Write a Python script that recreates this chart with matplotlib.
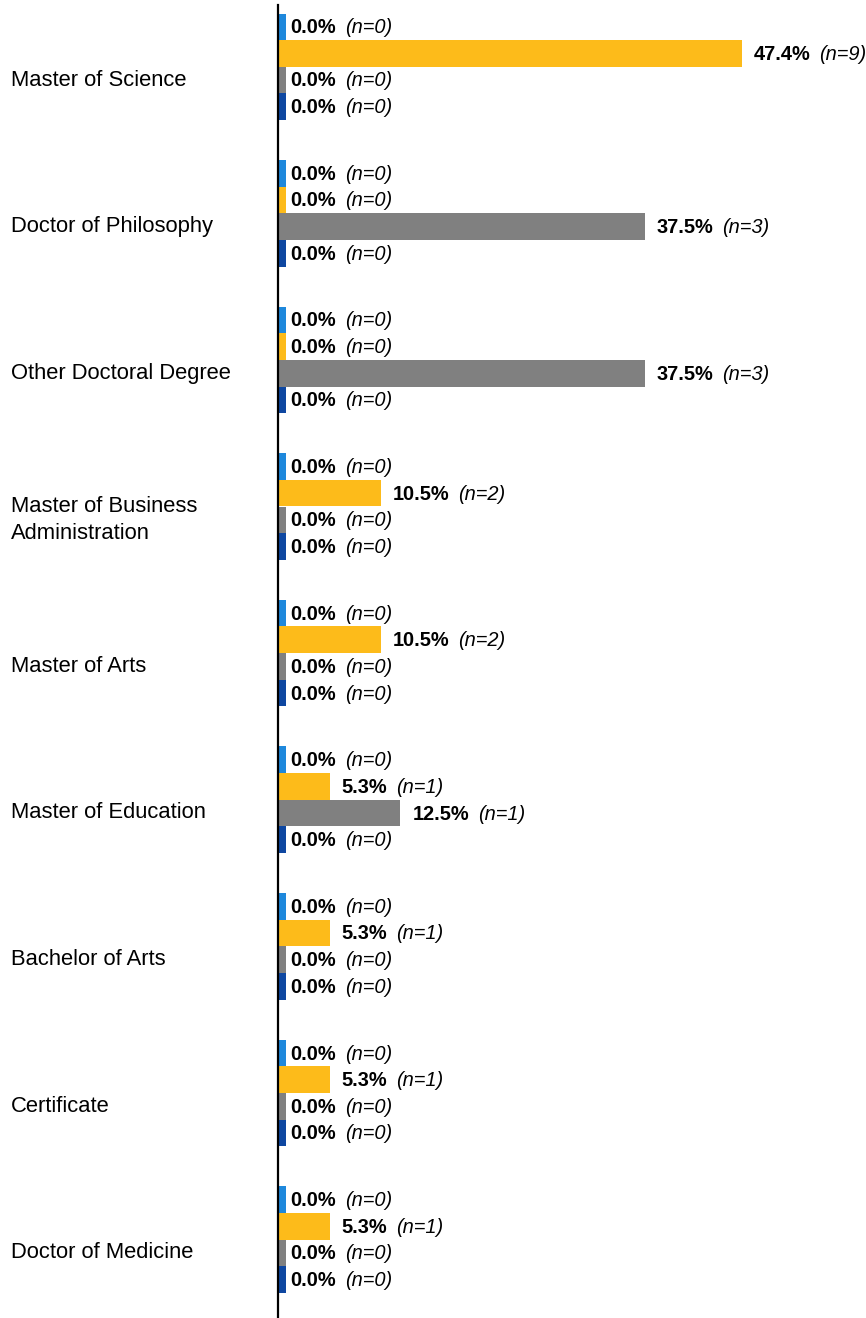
import matplotlib
matplotlib.use("Agg")
import matplotlib.pyplot as plt
from matplotlib.transforms import blended_transform_factory, offset_copy

plt.rcParams['font.family'] = ['Liberation Sans', 'DejaVu Sans']

categories = ["Master of Science", "Doctor of Philosophy", "Other Doctoral Degree",
              "Master of Business\nAdministration", "Master of Arts", "Master of Education",
              "Bachelor of Arts", "Certificate", "Doctor of Medicine"]
series_colors = ['#1E88DC', '#FDBB1A', '#808080', '#0E47A1']
s1_pct = [0, 0, 0, 0, 0, 0, 0, 0, 0]
s2_pct = [47.4, 0, 0, 10.5, 10.5, 5.3, 5.3, 5.3, 5.3]
s3_pct = [0, 37.5, 37.5, 0, 0, 12.5, 0, 0, 0]
s4_pct = [0, 0, 0, 0, 0, 0, 0, 0, 0]
s1_n = [0, 0, 0, 0, 0, 0, 0, 0, 0]
s2_n = [9, 0, 0, 2, 2, 1, 1, 1, 1]
s3_n = [0, 3, 3, 0, 0, 1, 0, 0, 0]
s4_n = [0, 0, 0, 0, 0, 0, 0, 0, 0]

pcts = [s1_pct, s2_pct, s3_pct, s4_pct]
ns = [s1_n, s2_n, s3_n, s4_n]

W, H = 866, 1318
fig = plt.figure(figsize=(W / 100, H / 100), dpi=100)
ax = fig.add_axes([278 / W, 0, (W - 278) / W, (H - 5) / H])

slot = 146.6
bar_h = 26.6 / slot
stub = 0.85
ax.set_xlim(0, (W - 278) / 9.78)
ax.set_ylim((H - 80) / slot, -75 / slot)

for j in range(4):
    for i in range(len(categories)):
        v = pcts[j][i]
        y = i + (j - 2) * bar_h
        ax.barh(y, max(v, stub), height=bar_h, left=0, color=series_colors[j], linewidth=0)

fig.canvas.draw()
renderer = fig.canvas.get_renderer()
for j in range(4):
    for i in range(len(categories)):
        v = pcts[j][i]
        y = i + (j - 2) * bar_h
        tb = ax.text(v, y, f"{v:.1f}%", fontsize=14.4, fontweight='bold', va='center', ha='left',
                     transform=offset_copy(ax.transData, fig=fig, x=12, y=-1, units='dots'))
        ext = tb.get_window_extent(renderer)
        ax.text(ext.x1 + 9, ax.transData.transform((0, y))[1] - 1, f"(n={ns[j][i]})",
                fontsize=14.4, fontstyle='italic', va='center', ha='left',
                transform=None)

trans = blended_transform_factory(fig.transFigure, ax.transData)
for i, c in enumerate(categories):
    ax.text(11 / W, i, c, transform=trans, fontsize=15.8, va='center', ha='left',
            linespacing=1.35)

for s in ['top', 'right', 'bottom']:
    ax.spines[s].set_visible(False)
ax.spines['left'].set_linewidth(1.6)
ax.spines['left'].set_color('black')
ax.set_xticks([])
ax.set_yticks([])
ax.patch.set_alpha(0)

fig.savefig("out.png", dpi=100)
